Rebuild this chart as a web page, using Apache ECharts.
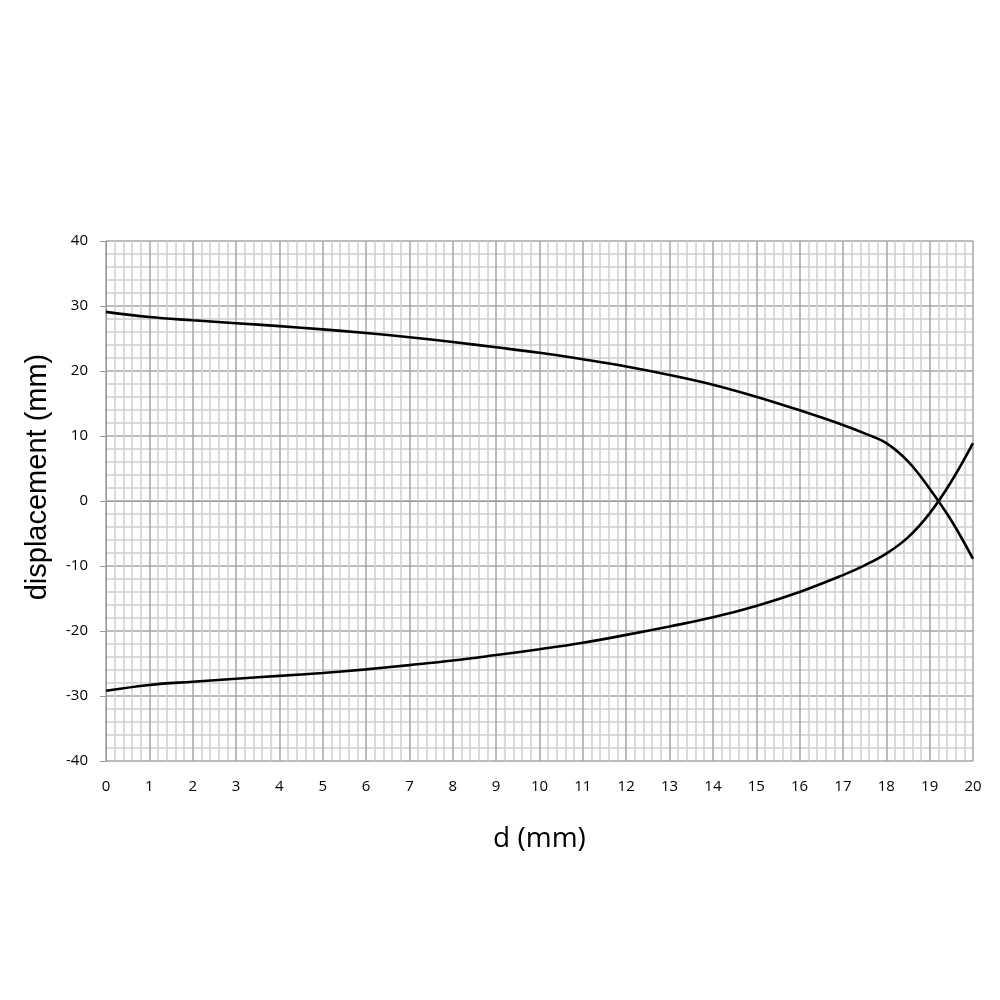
<!DOCTYPE html>
<html>
<head>
<meta charset="utf-8">
<script src="https://cdn.jsdelivr.net/npm/echarts@6/dist/echarts.min.js"></script>
<style>html,body{margin:0;padding:0;background:#fff}#c{width:1000px;height:1000px}</style>
</head>
<body>
<div id="c"></div>
<script>
const dValues = [0, 1, 2, 3, 4, 5, 6, 7, 8, 9, 10, 11, 12, 13, 14, 15, 16, 17, 17.5, 18, 18.5, 19, 19.5, 20];
const upperCurve = [29.1, 28.3, 27.8, 27.35, 26.9, 26.4, 25.85, 25.2, 24.45, 23.65, 22.8, 21.8, 20.7, 19.4, 17.9, 16.05, 13.95, 11.7, 10.4, 8.9, 6.1, 1.9, -3.0, -8.9];
const lowerCurve = [-29.2, -28.3, -27.8, -27.35, -26.9, -26.45, -25.9, -25.25, -24.55, -23.7, -22.8, -21.8, -20.6, -19.3, -17.9, -16.15, -14.0, -11.4, -9.9, -8.1, -5.6, -1.9, 3.0, 8.9];
const xTicks = [0, 20, 1];
const yTicks = [-40, 40, 10];

const chart = echarts.init(document.getElementById('c'), null, {renderer: 'canvas'});
const pair = (xs, ys) => xs.map((x, i) => [x, ys[i]]);
chart.setOption({
  backgroundColor: '#ffffff',
  animation: false,
  grid: {left: 106, right: 27, top: 241, bottom: 239, containLabel: false},
  xAxis: {
    type: 'value', min: xTicks[0], max: xTicks[1], interval: xTicks[2],
    name: 'd (mm)', nameLocation: 'middle', nameGap: 64,
    nameTextStyle: {fontFamily: 'Open Sans', fontSize: 28, color: '#000'},
    axisLine: {show: true, lineStyle: {color: '#999', width: 1}},
    axisTick: {show: false},
    axisLabel: {fontFamily: 'Open Sans', fontSize: 15, color: '#000', margin: 18},
    splitLine: {show: true, lineStyle: {color: '#a6a6a6', width: 1.5}},
    minorTick: {show: false, splitNumber: 5},
    minorSplitLine: {show: true, lineStyle: {color: '#cfcfcf', width: 1.5}}
  },
  yAxis: {
    type: 'value', min: yTicks[0], max: yTicks[1], interval: yTicks[2],
    name: 'displacement (mm)', nameLocation: 'middle', nameGap: 54, nameRotate: 90,
    nameTextStyle: {fontFamily: 'Liberation Sans', fontSize: 29, color: '#000', padding: [0, 0, 0, 48]},
    axisLine: {show: true, lineStyle: {color: '#999', width: 1}},
    axisTick: {show: true, length: 6, lineStyle: {color: '#999'}},
    axisLabel: {fontFamily: 'Open Sans', fontSize: 15, color: '#000', margin: 18},
    splitLine: {show: true, lineStyle: {color: '#a6a6a6', width: 1.5}},
    minorTick: {show: false, splitNumber: 5},
    minorSplitLine: {show: true, lineStyle: {color: '#cfcfcf', width: 1.5}}
  },
  series: [
    {type: 'line', data: pair(dValues, upperCurve), smooth: 0.4, showSymbol: false,
     lineStyle: {color: '#000', width: 2.6}, z: 5},
    {type: 'line', data: pair(dValues, lowerCurve), smooth: 0.4, showSymbol: false,
     lineStyle: {color: '#000', width: 2.6}, z: 5}
  ]
});
</script>
</body>
</html>
